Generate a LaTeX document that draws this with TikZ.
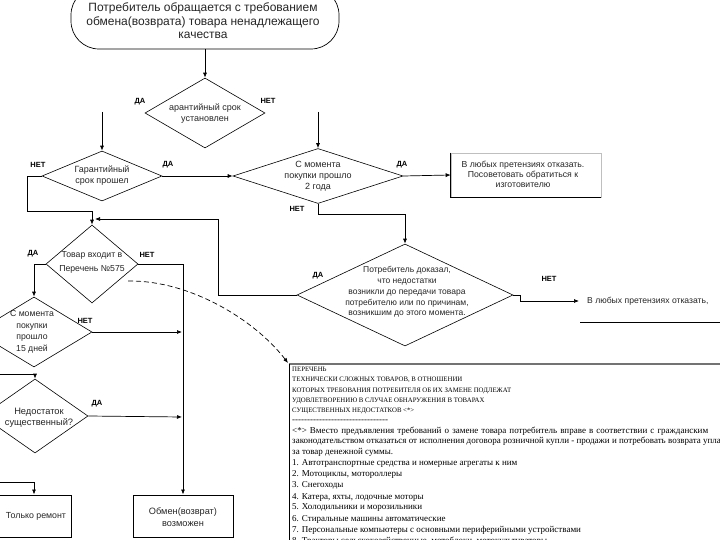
\documentclass[tikz,border=0pt]{standalone}
\usepackage{fontspec}
\setmainfont{Liberation Sans}
\newfontfamily\serifru{Liberation Serif}
\usetikzlibrary{shapes.geometric,arrows.meta}
\def\hh{-\kern0pt}
\def\hhh{\hh\hh\hh\hh\hh\hh\hh\hh}
\begin{document}
\begin{tikzpicture}[x=1pt,y=-1pt,
  line/.style={draw=black, line width=0.7pt},
  arr/.style={line, -{Latex[length=5pt,width=4pt]}},
  dia/.style={diamond, draw=black, line width=0.6pt, inner sep=0pt},
  dtext/.style={font=\fontsize{9}{11}\selectfont, text=black!85, align=center, inner sep=0pt},
  lab/.style={font=\fontsize{7.5}{9}\selectfont\bfseries, inner sep=0pt},
  boxs/.style={draw=black, line width=1pt, inner sep=0pt},
  ltext/.style={font=\serifru\fontsize{9}{10}\selectfont, anchor=west, inner sep=0pt},
  htext/.style={font=\serifru\fontsize{6.8}{8}\selectfont, anchor=west, inner sep=0pt},
]
\useasboundingbox (0,0) rectangle (720,540);
\clip (0,0) rectangle (720,540);
\fill[white] (0,0) rectangle (720,540);

% terminal
\node[draw=black, line width=0.7pt, rounded corners=28pt, minimum width=268pt, minimum height=62pt, inner sep=0pt] (t) at (205,18) {};
\node[font=\fontsize{12}{13.5}\selectfont, text=black!85, align=center, inner sep=0pt] (tt) at (203,21) {Потребитель обращается с требованием\\обмена(возврата) товара ненадлежащего\\качества};

% diamonds
\node[dia, minimum width=120pt, minimum height=70pt] (d1) at (205,113) {};
\node[dtext] (d1t) at (205,114) {арантийный срок\\установлен};
\node[lab] (l1) at (140,102) {ДА};
\node[lab] (l2) at (268,101) {НЕТ};

\node[dia, minimum width=120pt, minimum height=50pt] (d2) at (102,176) {};
\node[dtext] (d2t) at (102,176) {Гарантийный\\срок прошел};
\node[lab] (l3) at (38,165) {НЕТ};
\node[lab] (l4) at (168,165) {ДА};

\node[dia, minimum width=170pt, minimum height=55pt] (d3) at (318,176) {};
\node[dtext] (d3t) at (318,176) {С момента\\покупки прошло\\2 года};
\node[lab] (l5) at (402,165) {ДА};
\node[lab] (l6) at (297,209) {НЕТ};

\node[draw=black!25, line width=0.6pt, minimum width=150pt, minimum height=44pt, inner sep=0pt] (ba) at (526,175) {};
\draw[line width=1pt] (ba.north west) -- (ba.south west) -- (ba.south east);
\node[font=\fontsize{8.7}{10}\selectfont, text=black!85, align=center, inner sep=0pt] (bat) at (523,174) {В любых претензиях отказать.\\Посоветовать обратиться к\\изготовителю};

\node[dia, minimum width=216pt, minimum height=102pt] (d4) at (405,295) {};
\node[font=\fontsize{8.5}{10.8}\selectfont, text=black!85, align=center, inner sep=0pt] (d4t) at (407,292) {Потребитель доказал,\\что недостатки\\возникли до передачи товара\\потребителю или по причинам,\\возникшим до этого момента.};
\node[lab] (l7) at (318,276) {ДА};
\node[lab] (l8) at (549,279) {НЕТ};

\node[font=\fontsize{8.6}{10}\selectfont, text=black!85, anchor=west, inner xsep=8pt, inner ysep=1pt] (r2) at (579,301) {В любых претензиях отказать,};
\coordinate (u1) at (580,322);
\coordinate (u2) at (722,322);
\draw[line width=0.8pt] (u1) -- (u2);

\node[dia, minimum width=92pt, minimum height=78pt] (d5) at (92,264) {};
\node[font=\fontsize{8.7}{14}\selectfont, text=black!85, align=center, inner sep=0pt] (d5t) at (92,262) {Товар входит в\\Перечень №575};
\node[lab] (l9) at (33,254) {ДА};
\node[lab] (l10) at (147,255) {НЕТ};

\node[dia, minimum width=116pt, minimum height=70pt] (d6) at (34,332) {};
\node[font=\fontsize{8.7}{11.5}\selectfont, text=black!85, align=center, inner sep=0pt] (d6t) at (32,332) {С момента\\покупки\\прошло\\15 дней};
\node[lab] (l11) at (85,321) {НЕТ};

\node[dia, minimum width=106pt, minimum height=74pt] (d7) at (35,416) {};
\node[font=\fontsize{9.3}{11.5}\selectfont, text=black!85, align=center, inner sep=0pt] (d7t) at (39,418) {Недостаток\\существенный?};
\node[lab] (l12) at (97,404) {ДА};

\node[boxs, minimum width=74pt, minimum height=42pt] (tr) at (34,516) {};
\node[font=\fontsize{8.8}{11}\selectfont, text=black!85, inner sep=0pt] (trt) at (36,516) {Только ремонт};
\node[boxs, minimum width=100pt, minimum height=42pt] (ob) at (183,516) {};
\node[font=\fontsize{9.2}{12}\selectfont, text=black!85, align=center, inner sep=0pt] (obt) at (183,517) {Обмен(возврат)\\возможен};

% coordinates
\coordinate (c1) at (102,112);
\coordinate (c2) at (318,112);
\coordinate (c4a) at (218,219);
\coordinate (c4) at (95,219);
\coordinate (j1) at (182,332);
\coordinate (j2) at (182,417);
\coordinate (c6) at (35,374);
\coordinate (c7) at (34,482);
\coordinate (ds) at (128,281);
\coordinate (pb) at (288,363);

% connectors
\draw[arr] (t.south) -- (d1.north);
\draw[arr] (c1) -- (d2.north);
\draw[arr] (c2) -- (d3.north);
\draw[arr] (d2.east) -- (d3.west);
\draw[arr] (d3.east) -- (ba.west);
\draw[arr] (d3.south) -- ++(0,11) -| (d4.north);
\draw[arr] (d2.west) -- ++(-14,0) -- ++(0,35) -| (d5.north);
\draw[arr] (d4.west) -| (c4a) -- (c4);
\draw[arr] (d4.east) -- ++(7,0) |- (r2.west);
\draw[arr] (d5.east) -| (ob.north);
\draw[arr] (d5.west) -| (d6.north);
\draw[arr] (d6.east) -- (j1);
\draw[arr] (d7.east) -- (j2);
\draw[arr] (d6.west) -- ++(-8,0) |- (c6) -- (d7.north);
\draw[arr] (d7.west) -- ++(-8,0) |- (c7) -- (tr.north);
\draw[line width=0.7pt, dash pattern=on 5pt off 3pt, -{Latex[length=5pt,width=4pt]}] (ds) .. controls (190,280) and (255,320) .. (pb);

% list box
\draw[black!55, line width=2pt] (289,364) -- (725,364);
\draw[line width=0.9pt] (289,364) -- (289,545);
\node[htext] (p1) at (292,369) {ПЕРЕЧЕНЬ};
\node[htext] (p2) at (292,380) {ТЕХНИЧЕСКИ СЛОЖНЫХ ТОВАРОВ, В ОТНОШЕНИИ};
\node[htext] (p3) at (292,391) {КОТОРЫХ ТРЕБОВАНИЯ ПОТРЕБИТЕЛЯ ОБ ИХ ЗАМЕНЕ ПОДЛЕЖАТ};
\node[htext] (p4) at (292,401) {УДОВЛЕТВОРЕНИЮ В СЛУЧАЕ ОБНАРУЖЕНИЯ В ТОВАРАХ};
\node[htext] (p5) at (292,411) {СУЩЕСТВЕННЫХ НЕДОСТАТКОВ <*>};
\node[ltext] (p6) at (292,421) {\hhh\hhh\hhh\hhh};
\node[ltext] (p7) at (292,431) {\makebox[416pt][s]{<*> Вместо предъявления требований о замене товара потребитель вправе в соответствии с гражданским}};
\node[ltext] (p8) at (292,441) {законодательством отказаться от исполнения договора розничной купли - продажи и потребовать возврата уплаченной};
\node[ltext] (p9) at (292,452) {за товар денежной суммы.};
\node[ltext] (p10) at (292,463) {1. Автотранспортные средства и номерные агрегаты к ним};
\node[ltext] (p11) at (292,474) {2. Мотоциклы, мотороллеры};
\node[ltext] (p12) at (292,485) {3. Снегоходы};
\node[ltext] (p13) at (292,497) {4. Катера, яхты, лодочные моторы};
\node[ltext] (p14) at (292,508) {5. Холодильники и морозильники};
\node[ltext] (p15) at (292,519) {6. Стиральные машины автоматические};
\node[ltext] (p16) at (292,530) {7. Персональные компьютеры с основными периферийными устройствами};
\node[ltext] (p17) at (292,541) {8. Тракторы сельскохозяйственные, мотоблоки, мотокультиваторы};
\end{tikzpicture}
\end{document}
